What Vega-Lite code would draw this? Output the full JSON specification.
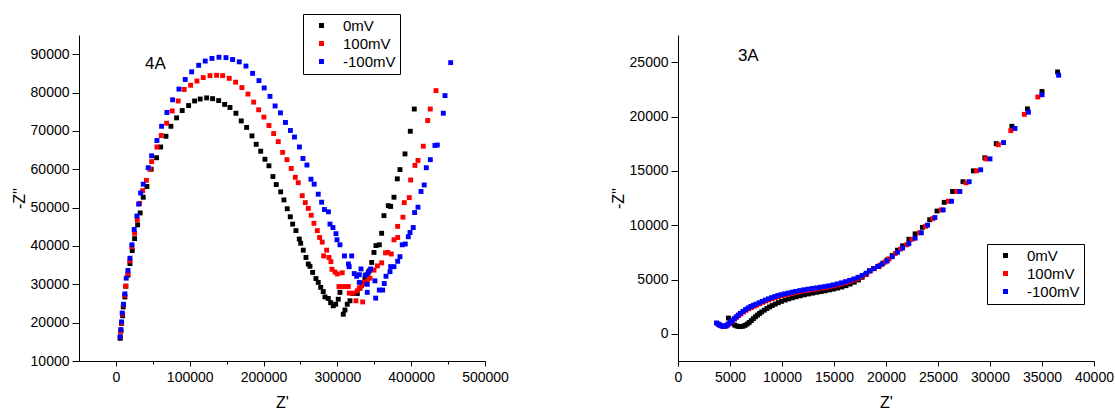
{
"$schema":"https://vega.github.io/schema/vega-lite/v6.json",
"background":"white",
"padding":{"left":11,"top":13,"right":0,"bottom":0},
"config":{"view":{"stroke":null},"font":"Liberation Sans","axis":{"grid":false,"domainColor":"#000","domainWidth":1,"tickColor":"#000","tickWidth":1,"labelColor":"#000","titleColor":"#000","labelFontSize":14,"titleFontSize":16,"titleFontWeight":"normal","labelFlush":false,"labelOverlap":false,"labelFont":"Liberation Sans","titleFont":"Liberation Sans"},"legend":{"labelFont":"Liberation Sans"}},
"datasets":{
"left":[
{"s":"0mV","re":5800,"im":15900},{"s":"0mV","re":6800,"im":17800},{"s":"0mV","re":7700,"im":19800},{"s":"0mV","re":9100,"im":21800},{"s":"0mV","re":9900,"im":24100},{"s":"0mV","re":12200,"im":26700},{"s":"0mV","re":13600,"im":29500},{"s":"0mV","re":16300,"im":32400},{"s":"0mV","re":19000,"im":35400},{"s":"0mV","re":22100,"im":38800},{"s":"0mV","re":25300,"im":41900},{"s":"0mV","re":29400,"im":45500},{"s":"0mV","re":32900,"im":48600},{"s":"0mV","re":37000,"im":52700},{"s":"0mV","re":42000,"im":55500},{"s":"0mV","re":47800,"im":60000},{"s":"0mV","re":55100,"im":63000},{"s":"0mV","re":60600,"im":65800},{"s":"0mV","re":67800,"im":68600},{"s":"0mV","re":74500,"im":71200},{"s":"0mV","re":82200,"im":73400},{"s":"0mV","re":89800,"im":75300},{"s":"0mV","re":98500,"im":76600},{"s":"0mV","re":106600,"im":77800},{"s":"0mV","re":114200,"im":78300},{"s":"0mV","re":122900,"im":78600},{"s":"0mV","re":131000,"im":78400},{"s":"0mV","re":139200,"im":77900},{"s":"0mV","re":147300,"im":76900},{"s":"0mV","re":154500,"im":76100},{"s":"0mV","re":162600,"im":74600},{"s":"0mV","re":169800,"im":72600},{"s":"0mV","re":177100,"im":70900},{"s":"0mV","re":184300,"im":68700},{"s":"0mV","re":190100,"im":66500},{"s":"0mV","re":196100,"im":64700},{"s":"0mV","re":201900,"im":62600},{"s":"0mV","re":207300,"im":60900},{"s":"0mV","re":212700,"im":58100},{"s":"0mV","re":217200,"im":56000},{"s":"0mV","re":223200,"im":54100},{"s":"0mV","re":227600,"im":52000},{"s":"0mV","re":232100,"im":49700},{"s":"0mV","re":236200,"im":47600},{"s":"0mV","re":239400,"im":45700},{"s":"0mV","re":243900,"im":44000},{"s":"0mV","re":248400,"im":41800},{"s":"0mV","re":250300,"im":40700},{"s":"0mV","re":253800,"im":38900},{"s":"0mV","re":257500,"im":37000},{"s":"0mV","re":260600,"im":35300},{"s":"0mV","re":262900,"im":34700},{"s":"0mV","re":266500,"im":33100},{"s":"0mV","re":271000,"im":31500},{"s":"0mV","re":274100,"im":30500},{"s":"0mV","re":277400,"im":29200},{"s":"0mV","re":280900,"im":28100},{"s":"0mV","re":283200,"im":26700},{"s":"0mV","re":287700,"im":26300},{"s":"0mV","re":290900,"im":25200},{"s":"0mV","re":294400,"im":24400},{"s":"0mV","re":297700,"im":24800},{"s":"0mV","re":301200,"im":26100},{"s":"0mV","re":303500,"im":27900},{"s":"0mV","re":308000,"im":22200},{"s":"0mV","re":310300,"im":23300},{"s":"0mV","re":313400,"im":24800},{"s":"0mV","re":317100,"im":25700},{"s":"0mV","re":320700,"im":27600},{"s":"0mV","re":327000,"im":27600},{"s":"0mV","re":330600,"im":29000},{"s":"0mV","re":334300,"im":30200},{"s":"0mV","re":337400,"im":31400},{"s":"0mV","re":340500,"im":32500},{"s":"0mV","re":343200,"im":33500},{"s":"0mV","re":346500,"im":35700},{"s":"0mV","re":349600,"im":38300},{"s":"0mV","re":352300,"im":40100},{"s":"0mV","re":356800,"im":40300},{"s":"0mV","re":360000,"im":43300},{"s":"0mV","re":363100,"im":47900},{"s":"0mV","re":369000,"im":50500},{"s":"0mV","re":372200,"im":50300},{"s":"0mV","re":376700,"im":52700},{"s":"0mV","re":381200,"im":57500},{"s":"0mV","re":384800,"im":59900},{"s":"0mV","re":391600,"im":64000},{"s":"0mV","re":398800,"im":69900},{"s":"0mV","re":404200,"im":75700},
{"s":"100mV","re":5800,"im":16300},{"s":"100mV","re":6400,"im":17800},{"s":"100mV","re":7700,"im":19900},{"s":"100mV","re":9100,"im":22200},{"s":"100mV","re":10200,"im":24600},{"s":"100mV","re":11800,"im":27100},{"s":"100mV","re":13100,"im":29500},{"s":"100mV","re":16300,"im":32800},{"s":"100mV","re":19000,"im":36100},{"s":"100mV","re":21700,"im":39800},{"s":"100mV","re":25300,"im":43300},{"s":"100mV","re":28900,"im":46800},{"s":"100mV","re":32100,"im":51100},{"s":"100mV","re":36200,"im":54400},{"s":"100mV","re":41300,"im":57100},{"s":"100mV","re":46100,"im":60000},{"s":"100mV","re":48400,"im":62000},{"s":"100mV","re":55600,"im":65800},{"s":"100mV","re":61400,"im":68800},{"s":"100mV","re":68700,"im":72000},{"s":"100mV","re":76300,"im":75200},{"s":"100mV","re":84400,"im":77800},{"s":"100mV","re":92500,"im":80800},{"s":"100mV","re":101200,"im":81900},{"s":"100mV","re":109800,"im":83000},{"s":"100mV","re":118300,"im":83900},{"s":"100mV","re":127400,"im":84400},{"s":"100mV","re":136400,"im":84500},{"s":"100mV","re":144600,"im":84400},{"s":"100mV","re":153500,"im":83700},{"s":"100mV","re":162200,"im":82700},{"s":"100mV","re":170700,"im":81300},{"s":"100mV","re":178900,"im":79600},{"s":"100mV","re":186600,"im":77500},{"s":"100mV","re":193400,"im":75500},{"s":"100mV","re":200500,"im":73600},{"s":"100mV","re":207300,"im":71400},{"s":"100mV","re":213700,"im":69300},{"s":"100mV","re":219900,"im":67200},{"s":"100mV","re":225900,"im":64400},{"s":"100mV","re":231700,"im":62500},{"s":"100mV","re":237500,"im":60200},{"s":"100mV","re":243000,"im":57900},{"s":"100mV","re":247000,"im":56500},{"s":"100mV","re":252400,"im":53100},{"s":"100mV","re":256500,"im":51300},{"s":"100mV","re":260600,"im":49800},{"s":"100mV","re":264600,"im":48000},{"s":"100mV","re":268300,"im":45900},{"s":"100mV","re":272800,"im":44000},{"s":"100mV","re":276000,"im":42200},{"s":"100mV","re":279500,"im":41000},{"s":"100mV","re":285500,"im":38900},{"s":"100mV","re":281400,"im":37400},{"s":"100mV","re":288600,"im":37000},{"s":"100mV","re":291300,"im":35900},{"s":"100mV","re":292700,"im":33900},{"s":"100mV","re":296700,"im":33200},{"s":"100mV","re":299900,"im":32700},{"s":"100mV","re":306600,"im":33000},{"s":"100mV","re":302200,"im":29400},{"s":"100mV","re":306600,"im":29400},{"s":"100mV","re":311700,"im":29400},{"s":"100mV","re":314800,"im":29400},{"s":"100mV","re":316100,"im":27700},{"s":"100mV","re":321500,"im":27700},{"s":"100mV","re":325200,"im":25700},{"s":"100mV","re":334300,"im":25400},{"s":"100mV","re":327000,"im":28300},{"s":"100mV","re":329700,"im":29000},{"s":"100mV","re":332900,"im":29600},{"s":"100mV","re":337400,"im":30500},{"s":"100mV","re":340500,"im":30900},{"s":"100mV","re":344200,"im":31600},{"s":"100mV","re":349600,"im":33700},{"s":"100mV","re":354300,"im":34800},{"s":"100mV","re":360000,"im":35600},{"s":"100mV","re":365200,"im":38200},{"s":"100mV","re":368200,"im":38300},{"s":"100mV","re":373000,"im":37900},{"s":"100mV","re":376700,"im":41600},{"s":"100mV","re":381700,"im":42200},{"s":"100mV","re":381700,"im":45100},{"s":"100mV","re":388900,"im":47500},{"s":"100mV","re":390600,"im":51300},{"s":"100mV","re":397400,"im":52600},{"s":"100mV","re":399300,"im":57200},{"s":"100mV","re":405100,"im":61000},{"s":"100mV","re":409200,"im":62300},{"s":"100mV","re":416400,"im":66000},{"s":"100mV","re":422400,"im":72700},{"s":"100mV","re":425900,"im":75700},{"s":"100mV","re":433600,"im":80500},
{"s":"-100mV","re":5800,"im":16300},{"s":"-100mV","re":6800,"im":18200},{"s":"-100mV","re":7700,"im":20200},{"s":"-100mV","re":8500,"im":22500},{"s":"-100mV","re":10400,"im":24800},{"s":"-100mV","re":12200,"im":27500},{"s":"-100mV","re":14000,"im":31600},{"s":"-100mV","re":16300,"im":33600},{"s":"-100mV","re":19000,"im":36800},{"s":"-100mV","re":21700,"im":40300},{"s":"-100mV","re":24800,"im":44300},{"s":"-100mV","re":28500,"im":47800},{"s":"-100mV","re":30800,"im":50900},{"s":"-100mV","re":33500,"im":53800},{"s":"-100mV","re":37000,"im":56100},{"s":"-100mV","re":43800,"im":60400},{"s":"-100mV","re":48400,"im":63500},{"s":"-100mV","re":55600,"im":67500},{"s":"-100mV","re":61900,"im":71200},{"s":"-100mV","re":69100,"im":74800},{"s":"-100mV","re":76800,"im":78100},{"s":"-100mV","re":85400,"im":80900},{"s":"-100mV","re":93900,"im":83400},{"s":"-100mV","re":102600,"im":85400},{"s":"-100mV","re":112100,"im":87100},{"s":"-100mV","re":121000,"im":88200},{"s":"-100mV","re":130100,"im":88900},{"s":"-100mV","re":139600,"im":89200},{"s":"-100mV","re":149100,"im":89100},{"s":"-100mV","re":158100,"im":88600},{"s":"-100mV","re":167100,"im":88000},{"s":"-100mV","re":176200,"im":86900},{"s":"-100mV","re":185200,"im":85000},{"s":"-100mV","re":193800,"im":83100},{"s":"-100mV","re":200900,"im":81200},{"s":"-100mV","re":208700,"im":79000},{"s":"-100mV","re":215700,"im":76500},{"s":"-100mV","re":222900,"im":74700},{"s":"-100mV","re":229700,"im":72200},{"s":"-100mV","re":236400,"im":70100},{"s":"-100mV","re":241900,"im":68400},{"s":"-100mV","re":248600,"im":65800},{"s":"-100mV","re":253400,"im":62800},{"s":"-100mV","re":258800,"im":61100},{"s":"-100mV","re":264200,"im":57400},{"s":"-100mV","re":268600,"im":56100},{"s":"-100mV","re":274100,"im":53500},{"s":"-100mV","re":278700,"im":51400},{"s":"-100mV","re":282500,"im":49500},{"s":"-100mV","re":287900,"im":48900},{"s":"-100mV","re":290000,"im":45700},{"s":"-100mV","re":294000,"im":44800},{"s":"-100mV","re":298100,"im":43200},{"s":"-100mV","re":299500,"im":41600},{"s":"-100mV","re":303500,"im":40300},{"s":"-100mV","re":309600,"im":37400},{"s":"-100mV","re":319400,"im":37400},{"s":"-100mV","re":315000,"im":35300},{"s":"-100mV","re":316000,"im":34600},{"s":"-100mV","re":322900,"im":32800},{"s":"-100mV","re":326100,"im":32100},{"s":"-100mV","re":329700,"im":32500},{"s":"-100mV","re":332000,"im":34000},{"s":"-100mV","re":337700,"im":32400},{"s":"-100mV","re":329700,"im":30500},{"s":"-100mV","re":340500,"im":30000},{"s":"-100mV","re":341900,"im":33100},{"s":"-100mV","re":345100,"im":34000},{"s":"-100mV","re":340500,"im":27900},{"s":"-100mV","re":351900,"im":26400},{"s":"-100mV","re":350900,"im":30900},{"s":"-100mV","re":356800,"im":28500},{"s":"-100mV","re":361400,"im":28500},{"s":"-100mV","re":363500,"im":30200},{"s":"-100mV","re":365900,"im":32100},{"s":"-100mV","re":371300,"im":33300},{"s":"-100mV","re":372200,"im":34600},{"s":"-100mV","re":376700,"im":34600},{"s":"-100mV","re":381700,"im":36000},{"s":"-100mV","re":384800,"im":37200},{"s":"-100mV","re":387900,"im":40300},{"s":"-100mV","re":392000,"im":40500},{"s":"-100mV","re":396100,"im":42400},{"s":"-100mV","re":398400,"im":43500},{"s":"-100mV","re":402800,"im":44800},{"s":"-100mV","re":404700,"im":48700},{"s":"-100mV","re":409200,"im":50100},{"s":"-100mV","re":413300,"im":54200},{"s":"-100mV","re":417700,"im":55900},{"s":"-100mV","re":420500,"im":60400},{"s":"-100mV","re":425900,"im":62500},{"s":"-100mV","re":432200,"im":66200},{"s":"-100mV","re":435400,"im":66300},{"s":"-100mV","re":443500,"im":74600},{"s":"-100mV","re":445800,"im":79200},{"s":"-100mV","re":453500,"im":87800}
],
"right":[
{"s":"0mV","re":4850,"im":1450},{"s":"0mV","re":5050,"im":1150},{"s":"0mV","re":5250,"im":950},{"s":"0mV","re":5450,"im":800},{"s":"0mV","re":5650,"im":720},{"s":"0mV","re":5850,"im":680},{"s":"0mV","re":6050,"im":670},{"s":"0mV","re":6250,"im":700},{"s":"0mV","re":6450,"im":780},{"s":"0mV","re":6650,"im":900},{"s":"0mV","re":6850,"im":1050},{"s":"0mV","re":7050,"im":1220},{"s":"0mV","re":7250,"im":1400},{"s":"0mV","re":7450,"im":1570},{"s":"0mV","re":7650,"im":1730},{"s":"0mV","re":7850,"im":1880},{"s":"0mV","re":8050,"im":2020},{"s":"0mV","re":8300,"im":2180},{"s":"0mV","re":8550,"im":2330},{"s":"0mV","re":8800,"im":2470},{"s":"0mV","re":9050,"im":2600},{"s":"0mV","re":9350,"im":2740},{"s":"0mV","re":9650,"im":2870},{"s":"0mV","re":9950,"im":2990},{"s":"0mV","re":10300,"im":3110},{"s":"0mV","re":10650,"im":3220},{"s":"0mV","re":11000,"im":3320},{"s":"0mV","re":11350,"im":3410},{"s":"0mV","re":11750,"im":3500},{"s":"0mV","re":12150,"im":3590},{"s":"0mV","re":12550,"im":3670},{"s":"0mV","re":12950,"im":3750},{"s":"0mV","re":13350,"im":3820},{"s":"0mV","re":13750,"im":3890},{"s":"0mV","re":14150,"im":3960},{"s":"0mV","re":14550,"im":4040},{"s":"0mV","re":14950,"im":4120},{"s":"0mV","re":15350,"im":4210},{"s":"0mV","re":15750,"im":4310},{"s":"0mV","re":16150,"im":4430},{"s":"0mV","re":16550,"im":4580},{"s":"0mV","re":16950,"im":4750},{"s":"0mV","re":17350,"im":4960},{"s":"0mV","re":17700,"im":5200},{"s":"0mV","re":18050,"im":5450},{"s":"0mV","re":18400,"im":5800},{"s":"0mV","re":18800,"im":6000},{"s":"0mV","re":19300,"im":6200},{"s":"0mV","re":19700,"im":6500},{"s":"0mV","re":20100,"im":6800},{"s":"0mV","re":20600,"im":7200},{"s":"0mV","re":21100,"im":7700},{"s":"0mV","re":21600,"im":8100},{"s":"0mV","re":22200,"im":8700},{"s":"0mV","re":22800,"im":9200},{"s":"0mV","re":23500,"im":9800},{"s":"0mV","re":24200,"im":10500},{"s":"0mV","re":24900,"im":11300},{"s":"0mV","re":25600,"im":12100},{"s":"0mV","re":26400,"im":13100},{"s":"0mV","re":27400,"im":14000},{"s":"0mV","re":28400,"im":15000},{"s":"0mV","re":29500,"im":16200},{"s":"0mV","re":30600,"im":17500},{"s":"0mV","re":32100,"im":19100},{"s":"0mV","re":33600,"im":20700},{"s":"0mV","re":35000,"im":22300},{"s":"0mV","re":36500,"im":24100},
{"s":"100mV","re":3900,"im":880},{"s":"100mV","re":4050,"im":790},{"s":"100mV","re":4200,"im":730},{"s":"100mV","re":4350,"im":690},{"s":"100mV","re":4500,"im":690},{"s":"100mV","re":4650,"im":740},{"s":"100mV","re":4800,"im":830},{"s":"100mV","re":4950,"im":950},{"s":"100mV","re":5100,"im":1070},{"s":"100mV","re":5250,"im":1200},{"s":"100mV","re":5450,"im":1370},{"s":"100mV","re":5650,"im":1530},{"s":"100mV","re":5850,"im":1690},{"s":"100mV","re":6050,"im":1840},{"s":"100mV","re":6300,"im":2010},{"s":"100mV","re":6550,"im":2170},{"s":"100mV","re":6800,"im":2310},{"s":"100mV","re":7050,"im":2430},{"s":"100mV","re":7300,"im":2540},{"s":"100mV","re":7550,"im":2640},{"s":"100mV","re":7850,"im":2770},{"s":"100mV","re":8150,"im":2900},{"s":"100mV","re":8450,"im":3020},{"s":"100mV","re":8750,"im":3130},{"s":"100mV","re":9050,"im":3240},{"s":"100mV","re":9350,"im":3340},{"s":"100mV","re":9650,"im":3430},{"s":"100mV","re":9950,"im":3510},{"s":"100mV","re":10300,"im":3590},{"s":"100mV","re":10650,"im":3660},{"s":"100mV","re":11000,"im":3740},{"s":"100mV","re":11350,"im":3810},{"s":"100mV","re":11750,"im":3890},{"s":"100mV","re":12150,"im":3960},{"s":"100mV","re":12550,"im":4020},{"s":"100mV","re":12950,"im":4080},{"s":"100mV","re":13350,"im":4140},{"s":"100mV","re":13750,"im":4200},{"s":"100mV","re":14150,"im":4260},{"s":"100mV","re":14550,"im":4330},{"s":"100mV","re":14950,"im":4410},{"s":"100mV","re":15350,"im":4500},{"s":"100mV","re":15750,"im":4600},{"s":"100mV","re":16150,"im":4710},{"s":"100mV","re":16550,"im":4830},{"s":"100mV","re":16950,"im":4960},{"s":"100mV","re":17350,"im":5110},{"s":"100mV","re":17750,"im":5290},{"s":"100mV","re":18150,"im":5500},{"s":"100mV","re":18500,"im":5800},{"s":"100mV","re":18900,"im":6000},{"s":"100mV","re":19400,"im":6300},{"s":"100mV","re":19900,"im":6600},{"s":"100mV","re":20300,"im":6900},{"s":"100mV","re":20900,"im":7400},{"s":"100mV","re":21400,"im":7800},{"s":"100mV","re":22000,"im":8200},{"s":"100mV","re":22500,"im":8700},{"s":"100mV","re":23200,"im":9300},{"s":"100mV","re":23800,"im":9900},{"s":"100mV","re":24500,"im":10600},{"s":"100mV","re":25300,"im":11400},{"s":"100mV","re":26000,"im":12200},{"s":"100mV","re":26800,"im":13100},{"s":"100mV","re":27700,"im":13900},{"s":"100mV","re":28700,"im":15000},{"s":"100mV","re":29600,"im":16100},{"s":"100mV","re":30800,"im":17400},{"s":"100mV","re":32000,"im":18700},{"s":"100mV","re":33300,"im":20200},{"s":"100mV","re":34600,"im":21800},
{"s":"-100mV","re":3700,"im":1000},{"s":"-100mV","re":3850,"im":900},{"s":"-100mV","re":4000,"im":820},{"s":"-100mV","re":4150,"im":750},{"s":"-100mV","re":4300,"im":700},{"s":"-100mV","re":4450,"im":690},{"s":"-100mV","re":4600,"im":730},{"s":"-100mV","re":4750,"im":820},{"s":"-100mV","re":4900,"im":940},{"s":"-100mV","re":5050,"im":1070},{"s":"-100mV","re":5200,"im":1210},{"s":"-100mV","re":5400,"im":1390},{"s":"-100mV","re":5600,"im":1560},{"s":"-100mV","re":5800,"im":1730},{"s":"-100mV","re":6000,"im":1890},{"s":"-100mV","re":6250,"im":2070},{"s":"-100mV","re":6500,"im":2240},{"s":"-100mV","re":6750,"im":2390},{"s":"-100mV","re":7000,"im":2520},{"s":"-100mV","re":7250,"im":2630},{"s":"-100mV","re":7500,"im":2730},{"s":"-100mV","re":7800,"im":2860},{"s":"-100mV","re":8100,"im":2990},{"s":"-100mV","re":8400,"im":3110},{"s":"-100mV","re":8700,"im":3220},{"s":"-100mV","re":9000,"im":3330},{"s":"-100mV","re":9300,"im":3430},{"s":"-100mV","re":9600,"im":3520},{"s":"-100mV","re":9900,"im":3600},{"s":"-100mV","re":10250,"im":3680},{"s":"-100mV","re":10600,"im":3750},{"s":"-100mV","re":10950,"im":3830},{"s":"-100mV","re":11300,"im":3900},{"s":"-100mV","re":11700,"im":3980},{"s":"-100mV","re":12100,"im":4050},{"s":"-100mV","re":12500,"im":4110},{"s":"-100mV","re":12900,"im":4170},{"s":"-100mV","re":13300,"im":4230},{"s":"-100mV","re":13700,"im":4290},{"s":"-100mV","re":14100,"im":4350},{"s":"-100mV","re":14500,"im":4420},{"s":"-100mV","re":14900,"im":4500},{"s":"-100mV","re":15300,"im":4590},{"s":"-100mV","re":15700,"im":4690},{"s":"-100mV","re":16100,"im":4800},{"s":"-100mV","re":16500,"im":4920},{"s":"-100mV","re":16900,"im":5050},{"s":"-100mV","re":17300,"im":5200},{"s":"-100mV","re":17700,"im":5380},{"s":"-100mV","re":18100,"im":5580},{"s":"-100mV","re":18450,"im":5800},{"s":"-100mV","re":18800,"im":6000},{"s":"-100mV","re":19200,"im":6200},{"s":"-100mV","re":19600,"im":6400},{"s":"-100mV","re":20100,"im":6700},{"s":"-100mV","re":20600,"im":7100},{"s":"-100mV","re":21100,"im":7500},{"s":"-100mV","re":21600,"im":7900},{"s":"-100mV","re":22200,"im":8300},{"s":"-100mV","re":22800,"im":8800},{"s":"-100mV","re":23400,"im":9300},{"s":"-100mV","re":24000,"im":10000},{"s":"-100mV","re":24700,"im":10700},{"s":"-100mV","re":25500,"im":11400},{"s":"-100mV","re":26300,"im":12200},{"s":"-100mV","re":27100,"im":13100},{"s":"-100mV","re":28000,"im":14000},{"s":"-100mV","re":29100,"im":15100},{"s":"-100mV","re":30000,"im":16100},{"s":"-100mV","re":31300,"im":17600},{"s":"-100mV","re":32400,"im":18900},{"s":"-100mV","re":33700,"im":20400},{"s":"-100mV","re":35000,"im":22000},{"s":"-100mV","re":36600,"im":23800}
]
},
"hconcat":[
{
"width":406,"height":326,
"layer":[
{"data":{"name":"left"},
"mark":{"type":"point","shape":"square","filled":true,"size":24,"opacity":1},
"encoding":{
"x":{"field":"re","type":"quantitative","scale":{"domain":[-50000,500000],"nice":false,"zero":false},
"axis":{"title":"Z'","values":[0,100000,200000,300000,400000,500000,50000,150000,250000,350000,450000],"format":"d","labelExpr":"datum.value % 100000 === 0 ? datum.label : ''","tickSize":{"condition":{"test":"datum.value % 100000 === 0","value":5},"value":3},"labelPadding":4,"titlePadding":10}},
"y":{"field":"im","type":"quantitative","scale":{"domain":[10000,95000],"nice":false,"zero":false},
"axis":{"title":"-Z''","values":[10000,20000,30000,40000,50000,60000,70000,80000,90000,15000,25000,35000,45000,55000,65000,75000,85000,95000],"format":"d","labelExpr":"datum.value % 10000 === 0 ? datum.label : ''","tickSize":{"condition":{"test":"datum.value % 10000 === 0","value":7},"value":4},"labelPadding":3,"titlePadding":3}},
"color":{"field":"s","type":"nominal","scale":{"domain":["0mV","100mV","-100mV"],"range":["#000000","#ff0000","#0000ff"]},
"legend":{"title":null,"orient":"none","legendX":224,"legendY":-21,"strokeColor":"#000","fillColor":"#fff","padding":4,"symbolOffset":7,"labelOffset":14,"rowPadding":2,"labelFontSize":15,"labelColor":"#000","symbolType":"square","symbolSize":25,"symbolStrokeWidth":0}}
}},
{"data":{"values":[{"re":53500,"im":87500,"t":"4A"}]},
"mark":{"type":"text","fontSize":17,"align":"center","baseline":"middle","color":"#000","font":"Liberation Sans"},
"encoding":{"x":{"field":"re","type":"quantitative"},"y":{"field":"im","type":"quantitative"},"text":{"field":"t"}}}
]
},
{
"width":416,"height":326,
"layer":[
{"data":{"name":"right"},
"mark":{"type":"point","shape":"square","filled":true,"size":24,"opacity":1},
"encoding":{
"x":{"field":"re","type":"quantitative","scale":{"domain":[0,40000],"nice":false,"zero":false},
"axis":{"title":"Z'","values":[0,5000,10000,15000,20000,25000,30000,35000,40000,2500,7500,12500,17500,22500,27500,32500,37500],"format":"d","labelExpr":"datum.value % 5000 === 0 ? datum.label : ''","tickSize":{"condition":{"test":"datum.value % 5000 === 0","value":5},"value":3},"labelPadding":4,"titlePadding":10}},
"y":{"field":"im","type":"quantitative","scale":{"domain":[-2500,27500],"nice":false,"zero":false},
"axis":{"title":"-Z''","values":[0,5000,10000,15000,20000,25000,2500,7500,12500,17500,22500,27500],"format":"d","labelExpr":"datum.value % 5000 === 0 ? datum.label : ''","tickSize":{"condition":{"test":"datum.value % 5000 === 0","value":7},"value":4},"labelPadding":3,"titlePadding":3}},
"color":{"field":"s","type":"nominal","scale":{"domain":["0mV","100mV","-100mV"],"range":["#000000","#ff0000","#0000ff"]},
"legend":{"title":null,"orient":"none","legendX":309,"legendY":209,"strokeColor":"#000","fillColor":"#fff","padding":4,"symbolOffset":7,"labelOffset":14,"rowPadding":2,"labelFontSize":15,"labelColor":"#000","symbolType":"square","symbolSize":25,"symbolStrokeWidth":0}}
}},
{"data":{"values":[{"re":6760,"im":25580,"t":"3A"}]},
"mark":{"type":"text","fontSize":17,"align":"center","baseline":"middle","color":"#000","font":"Liberation Sans"},
"encoding":{"x":{"field":"re","type":"quantitative"},"y":{"field":"im","type":"quantitative"},"text":{"field":"t"}}}
]
}
],
"spacing":193,
"bounds":"flush",
"resolve":{"scale":{"color":"independent"},"legend":{"color":"independent"}}
}
